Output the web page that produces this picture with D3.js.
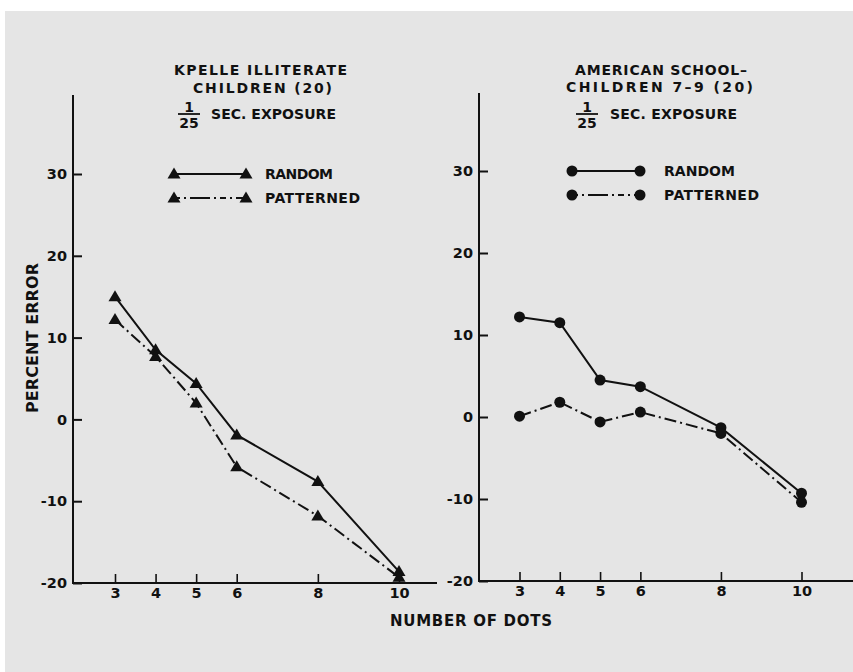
<!DOCTYPE html>
<html>
<head>
<meta charset="utf-8">
<script src="https://cdn.jsdelivr.net/npm/d3@7"></script>
<style>
  html, body { margin: 0; padding: 0; background: #ffffff; }
  svg { display: block; }
  text { font-family: "DejaVu Sans", "Liberation Sans", sans-serif; font-weight: bold; fill: #111; }
</style>
</head>
<body>
<svg id="chart" width="853" height="672"></svg>
<script>
// ---- data ----
const dots = [3, 4, 5, 6, 8, 10];
const yTicks = [-20, -10, 0, 10, 20, 30];
const kpelleRandom    = [15.0, 8.5, 4.4, -1.9, -7.6, -18.6];
const kpellePatterned = [12.2, 7.7, 2.0, -5.8, -11.8, -19.3];
const americanRandom    = [12.2, 11.5, 4.5, 3.7, -1.3, -9.3];
const americanPatterned = [0.1, 1.8, -0.6, 0.6, -2.0, -10.4];
const leftTitle = ["KPELLE  ILLITERATE", "CHILDREN  (20)"];
const rightTitle = ["AMERICAN  SCHOOL\u2013", "CHILDREN  7\u20139 (20)"];
const seriesNames = ["RANDOM", "PATTERNED"];
const xLabel = "NUMBER  OF  DOTS";
const yLabel = "PERCENT  ERROR";

const svg = d3.select("#chart");
svg.append("rect").attr("x", 5).attr("y", 11).attr("width", 848).attr("height", 661).attr("fill", "#e5e5e5");

const ink = "#111";
const triPath = "M0,-6.5L6.5,4.5L-6.5,4.5Z";

function panel(cfg) {
  const g = svg.append("g");
  const x = d3.scaleLinear().domain([3, 10]).range(cfg.xr);
  const y = d3.scaleLinear().domain([-20, 30]).range(cfg.yr);

  // y axis
  const ya = g.append("g").attr("transform", `translate(${cfg.ax},0)`)
    .call(d3.axisLeft(y).tickValues(yTicks).tickSize(-9).tickPadding(6).tickFormat(d3.format("d")));
  ya.select(".domain").remove();
  ya.attr("font-family", null).attr("font-size", null);
  ya.selectAll(".tick line").attr("stroke", ink).attr("stroke-width", 2);
  ya.selectAll(".tick text").style("font-size", "14.5px").attr("fill", ink)
    .text(d => d < 0 ? "-" + Math.abs(d) : d);

  g.append("line").attr("x1", cfg.ax).attr("x2", cfg.ax).attr("y1", cfg.ytop).attr("y2", y(-20) + 1)
    .attr("stroke", ink).attr("stroke-width", 2);

  // x axis
  const xa = g.append("g").attr("transform", `translate(0,${y(-20)})`)
    .call(d3.axisBottom(x).tickValues(dots).tickSize(-9).tickPadding(5).tickFormat(d3.format("d")));
  xa.select(".domain").remove();
  xa.attr("font-family", null).attr("font-size", null);
  xa.selectAll(".tick line").attr("stroke", ink).attr("stroke-width", 1.6);
  xa.selectAll(".tick text").style("font-size", "14.5px").attr("fill", ink);
  g.append("line").attr("x1", cfg.ax).attr("x2", cfg.xend).attr("y1", y(-20)).attr("y2", y(-20))
    .attr("stroke", ink).attr("stroke-width", 2);

  // series
  const line = d3.line().x((d, i) => x(dots[i])).y(d => y(d));
  cfg.series.forEach((s, k) => {
    g.append("path").datum(s).attr("d", line).attr("fill", "none").attr("stroke", ink)
      .attr("stroke-width", 2).attr("stroke-dasharray", k === 1 ? "12,4,2,4" : null);
  });
  cfg.series.forEach(s => {
    s.forEach((v, i) => {
      if (cfg.marker === "tri") {
        g.append("path").attr("d", triPath).attr("transform", `translate(${x(dots[i])},${y(v)})`).attr("fill", ink);
      } else {
        g.append("circle").attr("cx", x(dots[i])).attr("cy", y(v)).attr("r", 5.5).attr("fill", ink);
      }
    });
  });

  // titles
  cfg.titles.forEach((t, i) => {
    g.append("text").attr("x", cfg.titlePos[i][0]).attr("y", cfg.titlePos[i][1]).style("font-size", "14px")
      .attr("textLength", cfg.titlePos[i][2]).attr("lengthAdjust", "spacing")
      .attr("dominant-baseline", "central").text(t);
  });
  // fraction
  const fx = cfg.frac[0], fy = cfg.frac[1];
  g.append("text").attr("x", fx).attr("y", fy - 7).attr("text-anchor", "middle").style("font-size", "14px")
    .attr("dominant-baseline", "central").text("1");
  g.append("line").attr("x1", fx - 11).attr("x2", fx + 11).attr("y1", fy).attr("y2", fy).attr("stroke", ink).attr("stroke-width", 1.8);
  g.append("text").attr("x", fx).attr("y", fy + 9).attr("text-anchor", "middle").style("font-size", "14px")
    .attr("dominant-baseline", "central").text("25");
  g.append("text").attr("x", cfg.frac[2]).attr("y", fy).style("font-size", "14px")
    .attr("textLength", cfg.frac[3]).attr("lengthAdjust", "spacing")
    .attr("dominant-baseline", "central").text("SEC. EXPOSURE");

  // legend
  seriesNames.forEach((n, k) => {
    const ly = cfg.leg[1] + k * 24;
    g.append("line").attr("x1", cfg.leg[0]).attr("x2", cfg.leg[2]).attr("y1", ly).attr("y2", ly)
      .attr("stroke", ink).attr("stroke-width", 2).attr("stroke-dasharray", k === 1 ? "6,4,2,4,20,4,2,4" : null);
    [cfg.leg[0], cfg.leg[2]].forEach(px => {
      if (cfg.marker === "tri") {
        g.append("path").attr("d", triPath).attr("transform", `translate(${px},${ly})`).attr("fill", ink);
      } else {
        g.append("circle").attr("cx", px).attr("cy", ly).attr("r", 5.5).attr("fill", ink);
      }
    });
    g.append("text").attr("x", cfg.leg[3]).attr("y", ly).style("font-size", "14px")
      .attr("textLength", k === 0 ? cfg.leg[4] : cfg.leg[5]).attr("lengthAdjust", "spacing")
      .attr("dominant-baseline", "central").text(n);
  });
}

panel({
  xr: [115, 399], yr: [583, 174], ax: 73, ytop: 95, xend: 437,
  series: [kpelleRandom, kpellePatterned], marker: "tri",
  titles: leftTitle, titlePos: [[174, 70, 173], [193, 88, 139]],
  frac: [189, 114, 211, 125],
  leg: [174, 174, 246, 265, 68, 95]
});
panel({
  xr: [519.5, 801.5], yr: [581, 171], ax: 479, ytop: 93, xend: 853,
  series: [americanRandom, americanPatterned], marker: "dot",
  titles: rightTitle, titlePos: [[575, 70, 172], [566, 87, 187]],
  frac: [587, 114, 610, 127],
  leg: [572, 171, 640, 664, 71, 95]
});

// axis titles
svg.append("text").attr("x", 390).attr("y", 621).style("font-size", "15px")
  .attr("textLength", 162).attr("lengthAdjust", "spacing")
  .attr("dominant-baseline", "central").text(xLabel);
svg.append("text").attr("transform", "translate(32,338) rotate(-90)").attr("text-anchor", "middle")
  .style("font-size", "16px").attr("textLength", 150).attr("lengthAdjust", "spacing")
  .attr("dominant-baseline", "central").text(yLabel);
</script>
</body>
</html>
